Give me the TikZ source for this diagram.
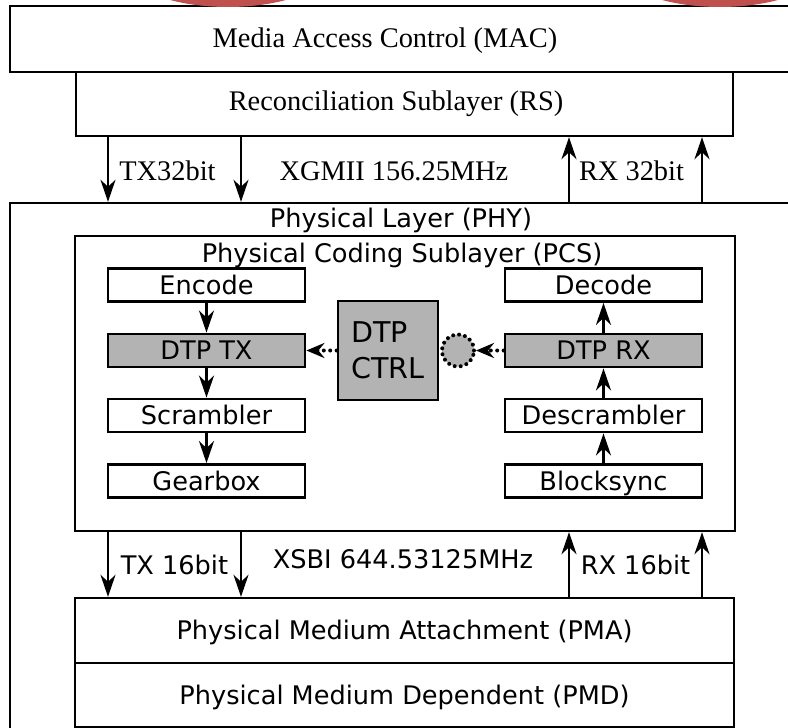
\documentclass[tikz,border=0pt]{standalone}
\usepackage{fontspec}
\setmainfont{Liberation Serif}
\newfontfamily\phyfont{DejaVu Sans}
\usetikzlibrary{arrows.meta}

\definecolor{boxgray}{RGB}{179,179,179}
\definecolor{markred}{RGB}{192,80,77}

\tikzset{
  layerbox/.style={draw, line width=1.2pt, inner sep=0pt},
  block/.style={draw, line width=1.4pt, inner sep=0pt, minimum width=98.5pt, minimum height=16.5pt,
    font=\phyfont\fontsize{12.8}{15}\selectfont, text height=9.4pt, text depth=0pt},
  dtp/.style={block, fill=boxgray},
  serif label/.style={font=\fontsize{14.2}{16}\selectfont, inner sep=0pt, anchor=base},
  sans label/.style={font=\phyfont\fontsize{12.8}{15}\selectfont, inner sep=0pt, anchor=base},
  flow/.style={-{Stealth[length=11pt,width=7.5pt,inset=3.5pt]}, line width=1.3pt},
  ctrlflow/.style={-{Stealth[length=9pt,width=7.5pt,inset=3pt]}, line width=2pt,
    dash pattern=on 0pt off 3.2pt, line cap=round},
}

\begin{document}
\begin{tikzpicture}[x=0.5pt,y=-0.5pt]
\useasboundingbox (0,0) rectangle (788,728);
\clip (0,0) rectangle (788,728);

% MAC and RS
\node[layerbox, minimum width=400pt, minimum height=33pt] (mac) at (410,39) {};
\node[serif label] (macT) at (385,47) {Media Access Control (MAC)};
\node[layerbox, minimum width=328.5pt, minimum height=32pt] (rs) at (404.5,104) {};
\node[serif label] (rsT) at (396,110) {Reconciliation Sublayer (RS)};

% PHY and PCS
\node[layerbox, minimum width=405pt, minimum height=278.5pt] (phy) at (415,481.5) {};
\node[sans label] (phyT) at (401,227) {Physical Layer (PHY)};
\node[layerbox, minimum width=330pt, minimum height=147.5pt] (pcs) at (405,383.5) {};
\node[sans label] (pcsT) at (402,262) {Physical Coding Sublayer (PCS)};

% tx side
\node[block] (enc) at (206.5,285) {Encode};
\node[dtp] (dtptx) at (206.5,350.5) {DTP TX};
\node[block] (scr) at (206.5,415.5) {Scrambler};
\node[block] (gear) at (206.5,481) {Gearbox};

% rx side
\node[block] (dec) at (603.5,285) {Decode};
\node[dtp] (dtprx) at (603.5,350.5) {DTP RX};
\node[block] (descr) at (603.5,415.5) {Descrambler};
\node[block] (sync) at (603.5,481) {Blocksync};

% control
\node[draw, fill=boxgray, line width=1.4pt, inner sep=0pt, minimum width=50pt, minimum height=49.5pt,
  align=left, font=\phyfont\fontsize{14.3}{18}\selectfont] (ctrl) at (388,350.5) {DTP\\CTRL};
\node[circle, draw, fill=boxgray, minimum size=16pt, inner sep=0pt, line width=2pt,
  dash pattern=on 0pt off 3pt, line cap=round] (tap) at (458,350.5) {};

% PMA and PMD
\node[layerbox, minimum width=329.5pt, minimum height=32.5pt, font=\phyfont\fontsize{12.8}{15}\selectfont,
  text height=9.4pt, text depth=0pt] (pma) at (404.5,630.5) {Physical Medium Attachment (PMA)};
\node[layerbox, minimum width=329.5pt, minimum height=32pt, font=\phyfont\fontsize{12.8}{15}\selectfont,
  text height=9.4pt, text depth=0pt] (pmd) at (404.5,695) {Physical Medium Dependent (PMD)};

% bus lanes
\coordinate (c1) at (108,0);
\coordinate (c2) at (241,0);
\coordinate (c3) at (569,0);
\coordinate (c4) at (702,0);

\node[serif label] (xgT) at (167.5,180) {TX32bit};
\node[serif label] (xgM) at (394,180) {XGMII 156.25MHz};
\node[serif label] (xgR) at (631.5,180) {RX 32bit};

\node[sans label] (xsT) at (174.5,574) {TX 16bit};
\node[sans label] (xsM) at (403,568) {XSBI 644.53125MHz};
\node[sans label] (xsR) at (635.5,574) {RX 16bit};

\path[flow]
% XGMII
(rs.south -| c1) edge (phy.north -| c1)
(rs.south -| c2) edge (phy.north -| c2)
(phy.north -| c3) edge (rs.south -| c3)
(phy.north -| c4) edge (rs.south -| c4)

% XSBI
(pcs.south -| c1) edge (pma.north -| c1)
(pcs.south -| c2) edge (pma.north -| c2)
(pma.north -| c3) edge (pcs.south -| c3)
(pma.north -| c4) edge (pcs.south -| c4)

% tx chain
(enc) edge (dtptx)
(dtptx) edge (scr)
(scr) edge (gear)

% rx chain
(sync) edge (descr)
(descr) edge (dtprx)
(dtprx) edge (dec);

\path[ctrlflow]
(ctrl.west) edge (dtptx.east)
(dtprx.west) edge (tap.east);

% red marks
\fill[markred] (228,-31) ellipse [x radius=50pt, y radius=19pt];
\fill[markred] (720,-31) ellipse [x radius=50pt, y radius=19pt];

\end{tikzpicture}
\end{document}
